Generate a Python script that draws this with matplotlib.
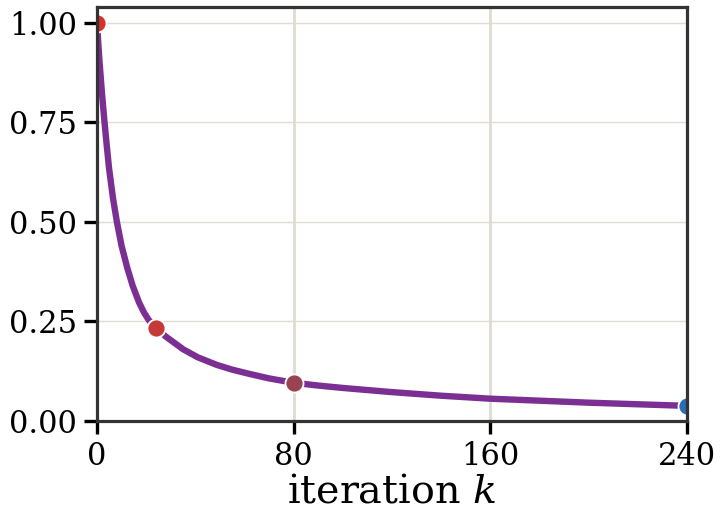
import matplotlib
matplotlib.use("Agg")
import matplotlib.pyplot as plt
from matplotlib.ticker import FormatStrFormatter

# curve
iters = [0, 0.5, 1, 2, 3.1, 4, 4.9, 6.5, 8.1, 10, 12.3, 14.5, 17.1, 19,
         21, 24, 28, 32, 35.1, 41, 48.7, 55, 62.2, 70, 80,
         90, 100, 119, 140, 160, 180, 200, 220, 240]
valores = [1.0, 0.95, 0.905, 0.825, 0.748, 0.69, 0.635, 0.56, 0.50, 0.44,
           0.385, 0.34, 0.298, 0.274, 0.254, 0.234, 0.212, 0.194, 0.180,
           0.160, 0.141, 0.129, 0.118, 0.107, 0.096,
           0.089, 0.083, 0.073, 0.0635, 0.056, 0.051, 0.046, 0.042, 0.038]

# highlighted points
pontos_k = [0, 24, 80, 240]
pontos_v = [1.0, 0.234, 0.096, 0.038]
pontos_cores = ["#d8302a", "#c63939", "#984252", "#2a6db6"]

x_ticks = [0, 80, 160, 240]
y_ticks = [0.0, 0.25, 0.5, 0.75, 1.0]

plt.rcParams["font.family"] = "DejaVu Serif"
plt.rcParams["mathtext.fontset"] = "dejavuserif"

fig = plt.figure(figsize=(7.26, 5.24), dpi=100)
ax = fig.add_axes([0.1336, 0.1966, 0.8124, 0.79])

ax.plot(iters, valores, color="#7b2f93", lw=4.6, solid_capstyle="round",
        solid_joinstyle="round", zorder=2)
for k, v, c in zip(pontos_k, pontos_v, pontos_cores):
    ax.plot(k, v, "o", ms=13, color=c, mec="white", mew=1.3, zorder=2.2)

ax.set_xlim(0, 240)
ax.set_ylim(0, 1.04)
ax.set_xticks(x_ticks)
ax.set_yticks(y_ticks)
ax.yaxis.set_major_formatter(FormatStrFormatter("%.2f"))

ax.grid(axis="y", color="#e0dcd2", lw=1.0, zorder=0)
ax.grid(axis="x", color="#e0dcd2", lw=2.0, zorder=0)
ax.set_axisbelow(True)

for s in ax.spines.values():
    s.set_color("#333333")
    s.set_linewidth(2.3)

ax.tick_params(axis="both", length=9.5, width=2.4, color="black",
               labelsize=22, pad=5)
ax.set_xlabel("iteration $k$", fontsize=28.5, labelpad=1)

fig.savefig("out.png", dpi=100)
